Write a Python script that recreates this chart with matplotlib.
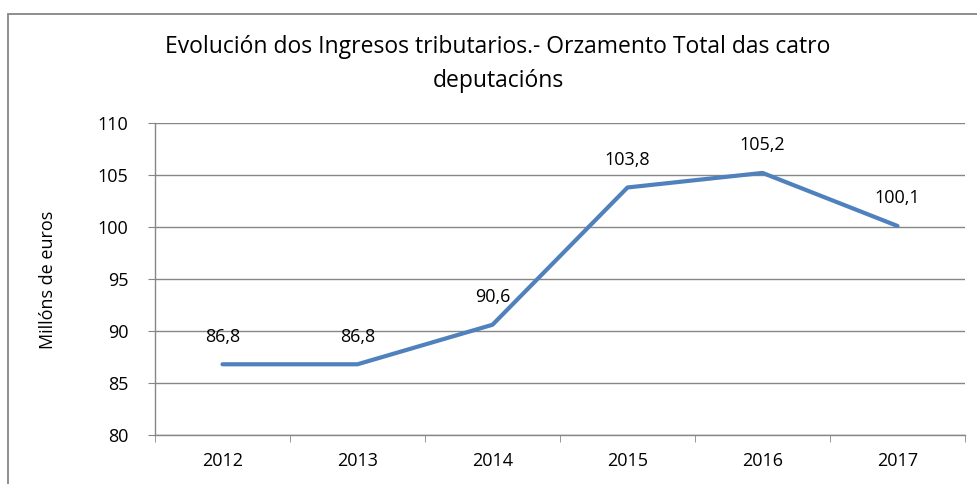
import matplotlib.pyplot as plt
from matplotlib.patches import Rectangle

plt.rcParams['font.family'] = ['Open Sans', 'DejaVu Sans']

anos = ["2012", "2013", "2014", "2015", "2016", "2017"]
ingresos = [86.8, 86.8, 90.6, 103.8, 105.2, 100.1]
yticks = [80, 85, 90, 95, 100, 105, 110]

fig = plt.figure(figsize=(9.77, 4.84), dpi=100)
# plot area in pixels: x 155..965, y 123..435
ax = fig.add_axes([155 / 977, 1 - 435 / 484, 810 / 977, 312 / 484])

# outer chart frame (cropped on right and bottom)
fig.patches.append(Rectangle((8 / 977, -0.05), 1.0, 1 - 14 / 484 + 0.05,
                             transform=fig.transFigure, fill=False,
                             edgecolor='#868686', linewidth=1.3))

x = list(range(len(anos)))
ax.plot(x, ingresos, color='#4F81BD', linewidth=3, solid_capstyle='round')
for xi, v in zip(x, ingresos):
    ax.annotate(f"{v:.1f}".replace('.', ','), (xi, v), xytext=(0, 20),
                textcoords='offset points', ha='center', va='center', fontsize=13)

ax.set_xlim(-0.5, len(anos) - 0.5)
ax.set_ylim(80, 110)
ax.set_yticks(yticks)
ax.set_yticklabels([str(t) for t in yticks], fontsize=13)
ax.set_xticks(x)
ax.set_xticklabels(anos, fontsize=13)
ax.set_xticks([i - 0.5 for i in range(len(anos) + 1)], minor=True)
ax.tick_params(axis='x', which='major', length=0, pad=12)
ax.tick_params(axis='x', which='minor', length=5, color='#868686', direction='out')
ax.tick_params(axis='y', length=5, color='#868686', pad=14)

ax.grid(axis='y', color='#868686', linewidth=1)
ax.set_axisbelow(True)
for s in ['top', 'right']:
    ax.spines[s].set_visible(False)
for s in ['left', 'bottom']:
    ax.spines[s].set_color('#868686')
    ax.spines[s].set_linewidth(1)

fig.text(48 / 977, 1 - 280 / 484, "Millóns de euros", rotation=90,
         ha='center', va='center', fontsize=13)
fig.text(498 / 977, 1 - 64 / 484,
         "Evolución dos Ingresos tributarios.- Orzamento Total das catro\ndeputacións",
         ha='center', va='center', fontsize=16.5, linespacing=1.6)

fig.savefig("out.png", dpi=100)
